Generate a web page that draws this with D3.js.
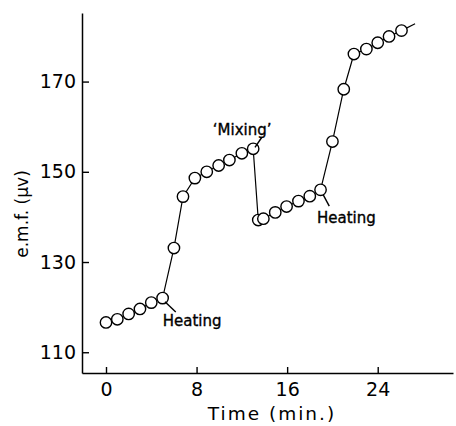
<!DOCTYPE html>
<html><head><meta charset="utf-8">
<script src="https://cdn.jsdelivr.net/npm/d3@7"></script>
<style>
body{margin:0;background:#fff;}
svg{display:block;}
text{font-family:"DejaVu Sans",sans-serif;fill:#000;}
</style></head>
<body>
<svg id="chart" width="456" height="426"></svg>
<script>
// Data (time in minutes, e.m.f. in microvolts)
const time = [0,1,2,3,4,5,6,6.8,7.85,8.9,9.95,10.9,12,13,13.45,13.9,14.95,15.95,17,18,18.95,20,21,21.9,23,24,25,26.1];
const emf  = [116.6,117.3,118.5,119.6,121.0,122.0,133.1,144.5,148.6,150.0,151.4,152.6,154.1,155.1,139.3,139.6,141.0,142.3,143.5,144.6,146.0,156.7,168.3,176.1,177.2,178.6,180.0,181.3];
// line continues past the last marked reading
const tailTime = [26.1, 27.3];
const tailEmf  = [181.3, 182.8];

const xTicks = [0,8,16,24];
const yTicks = [110,130,150,170];
const xLabel = "Time (min.)";
const yLabel = "e.m.f. (\u03bcv)";

const notes = [
  {text:"Heating", t:5.01, v:115.8, l:[[5.21,121.2],[6.16,118.9]]},
  {text:"\u2018Mixing\u2019", t:9.43, v:158.2, l:[[13.16,155.4],[13.75,157.6]]},
  {text:"Heating", t:18.64, v:138.7, l:[[19.19,144.9],[19.72,142.4]]}
];

const svg = d3.select("#chart");
const x = d3.scaleLinear().domain([-2.12, 30.65]).range([82, 453]);
const y = d3.scaleLinear().domain([105.4, 185.2]).range([373, 13]);

// axes
const gx = svg.append("g").attr("transform","translate(0,373)")
  .call(d3.axisBottom(x).tickValues(xTicks).tickSizeInner(-6).tickSizeOuter(0).tickPadding(10));
const gy = svg.append("g").attr("transform","translate(82,0)")
  .call(d3.axisLeft(y).tickValues(yTicks).tickSizeInner(-7).tickSizeOuter(0).tickPadding(6));
[gx,gy].forEach(g=>{
  g.selectAll("path.domain").attr("stroke","#000").attr("stroke-width",1.5);
  g.selectAll(".tick line").attr("stroke","#000").attr("stroke-width",1.4);
  g.selectAll(".tick text").attr("font-family","DejaVu Sans").attr("font-size",19).attr("fill","#000");
});

svg.append("text").attr("x",272).attr("y",420).attr("text-anchor","middle")
  .attr("font-size",18.5).attr("letter-spacing",2).text(xLabel);
svg.append("text").attr("transform","translate(28,214) rotate(-90)").attr("text-anchor","middle")
  .attr("font-size",17).attr("fill","#000").text(yLabel);

const pts = time.map((t,i)=>[t,emf[i]]);
const line = d3.line().x(d=>x(d[0])).y(d=>y(d[1]));
svg.append("path").datum(pts).attr("d",line).attr("fill","none").attr("stroke","#000").attr("stroke-width",1.2);
svg.append("path").datum(tailTime.map((t,i)=>[t,tailEmf[i]])).attr("d",line).attr("fill","none").attr("stroke","#000").attr("stroke-width",1.2);

svg.append("g").selectAll("circle").data(pts).join("circle")
  .attr("cx",d=>x(d[0])).attr("cy",d=>y(d[1])).attr("r",5.7)
  .attr("fill","#fff").attr("stroke","#000").attr("stroke-width",1.4);

notes.forEach(n=>{
  svg.append("path").datum(n.l).attr("d",line).attr("stroke","#000").attr("stroke-width",1.4).attr("fill","none");
  svg.append("text").attr("x",x(n.t)).attr("y",y(n.v)).attr("font-size",15)
    .attr("stroke","#000").attr("stroke-width",0.35).text(n.text);
});
</script>
</body></html>
